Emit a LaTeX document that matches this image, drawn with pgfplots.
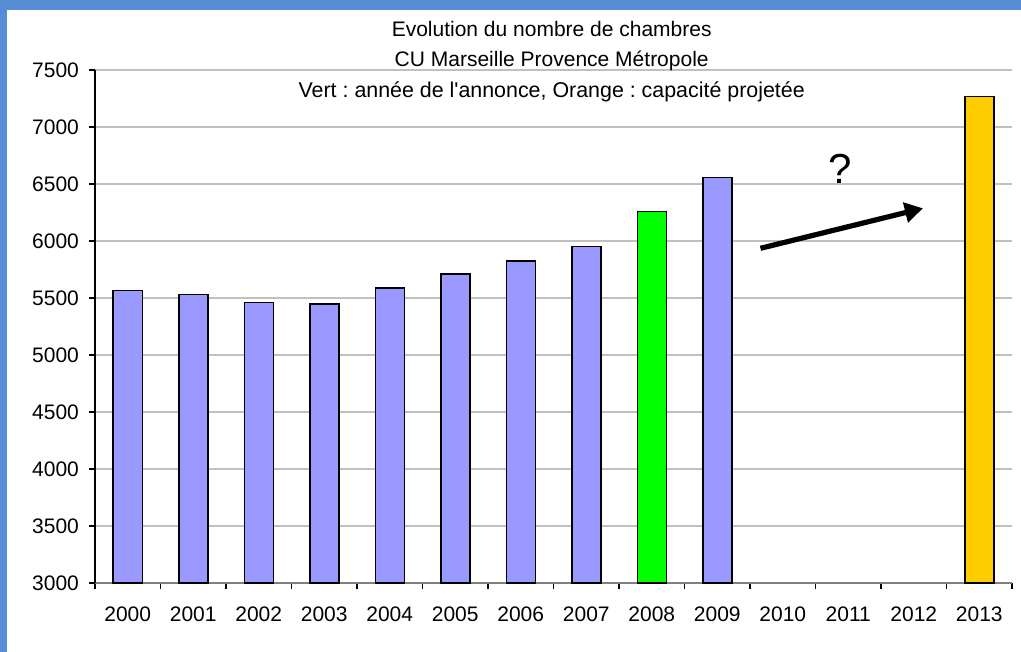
\documentclass[border=0pt]{standalone}
\usepackage{fontspec}
\setmainfont{Liberation Sans}[Ligatures=TeXOff]
\frenchspacing
\usepackage{pgfplots}
\pgfplotsset{compat=1.18}
\usetikzlibrary{arrows.meta}
\definecolor{frameblue}{RGB}{85,142,213}
\definecolor{barblue}{RGB}{153,153,255}
\definecolor{bargreen}{RGB}{0,255,0}
\definecolor{barorange}{RGB}{255,204,0}
\definecolor{gridgray}{RGB}{192,192,192}
\definecolor{axisgray}{RGB}{128,128,128}
\begin{document}
\begin{tikzpicture}
\path[use as bounding box, fill=white] (-47.5pt,-34.5pt) rectangle (463pt,291.5pt);
\fill[frameblue] (-47.5pt,-34.5pt) rectangle (-44pt,291.5pt);
\fill[frameblue] (-47.5pt,286.25pt) rectangle (463pt,291.5pt);
\begin{axis}[
  scale only axis, width=458.5pt, height=256.5pt,
  ymin=3000, ymax=7500, ytick={3000,3500,...,7500},
  xmin=-0.5, xmax=13.5,
  axis x line*=bottom, axis y line*=left,
  x axis line style={draw=axisgray, line width=0.6pt},
  y axis line style={draw=black, line width=0.6pt},
  ymajorgrids, major grid style={draw=gridgray, line width=0.6pt},
  tick align=outside, major tick length=3pt, minor tick length=3pt,
  ytick style={draw=black, line width=0.6pt},
  xtick={0,...,13},
  xticklabels={2000,2001,2002,2003,2004,2005,2006,2007,2008,2009,2010,2011,2012,2013},
  major x tick style={draw=none},
  minor xtick={-0.5,0.5,...,13.5},
  minor x tick style={draw=black, line width=0.6pt},
  tick label style={font=\fontsize{10.5}{12}\selectfont},
  /pgf/number format/assume math mode=true,
  /pgf/number format/1000 sep={},
  yticklabel style={xshift=-1.5pt},
  xticklabel style={yshift=-5.5pt},
  ybar, bar width=14.5pt, bar shift=0pt,
  every axis plot/.append style={draw=black, line width=0.75pt},
  clip=false,
]
\addplot[fill=barblue] coordinates {(0,5567) (1,5532) (2,5462) (3,5447) (4,5588) (5,5712) (6,5826) (7,5950) (9,6557)};
\addplot[fill=bargreen] coordinates {(8,6260)};
\addplot[fill=barorange] coordinates {(13,7266)};
\draw[line width=2.6pt, -{Triangle[length=9pt,width=10pt]}] (axis cs:9.66,5936) -- (axis cs:12.14,6287);
\node[anchor=base, font=\fontsize{21}{24}\selectfont, inner sep=0pt] at (axis cs:10.87,6500) {?};
\node[anchor=base, font=\fontsize{10.5}{12}\selectfont] at ([xshift=-0.9pt,yshift=16.5pt]rel axis cs:0.5,1) {Evolution du nombre de chambres};
\node[anchor=base, font=\fontsize{10.5}{12}\selectfont] at ([xshift=-0.9pt,yshift=1.5pt]rel axis cs:0.5,1) {CU Marseille Provence Métropole};
\node[anchor=base, font=\fontsize{10.7}{12}\selectfont] at ([xshift=-0.9pt,yshift=-14pt]rel axis cs:0.5,1) {Vert : année de l'annonce, Orange : capacité projetée};
\end{axis}
\end{tikzpicture}
\end{document}
